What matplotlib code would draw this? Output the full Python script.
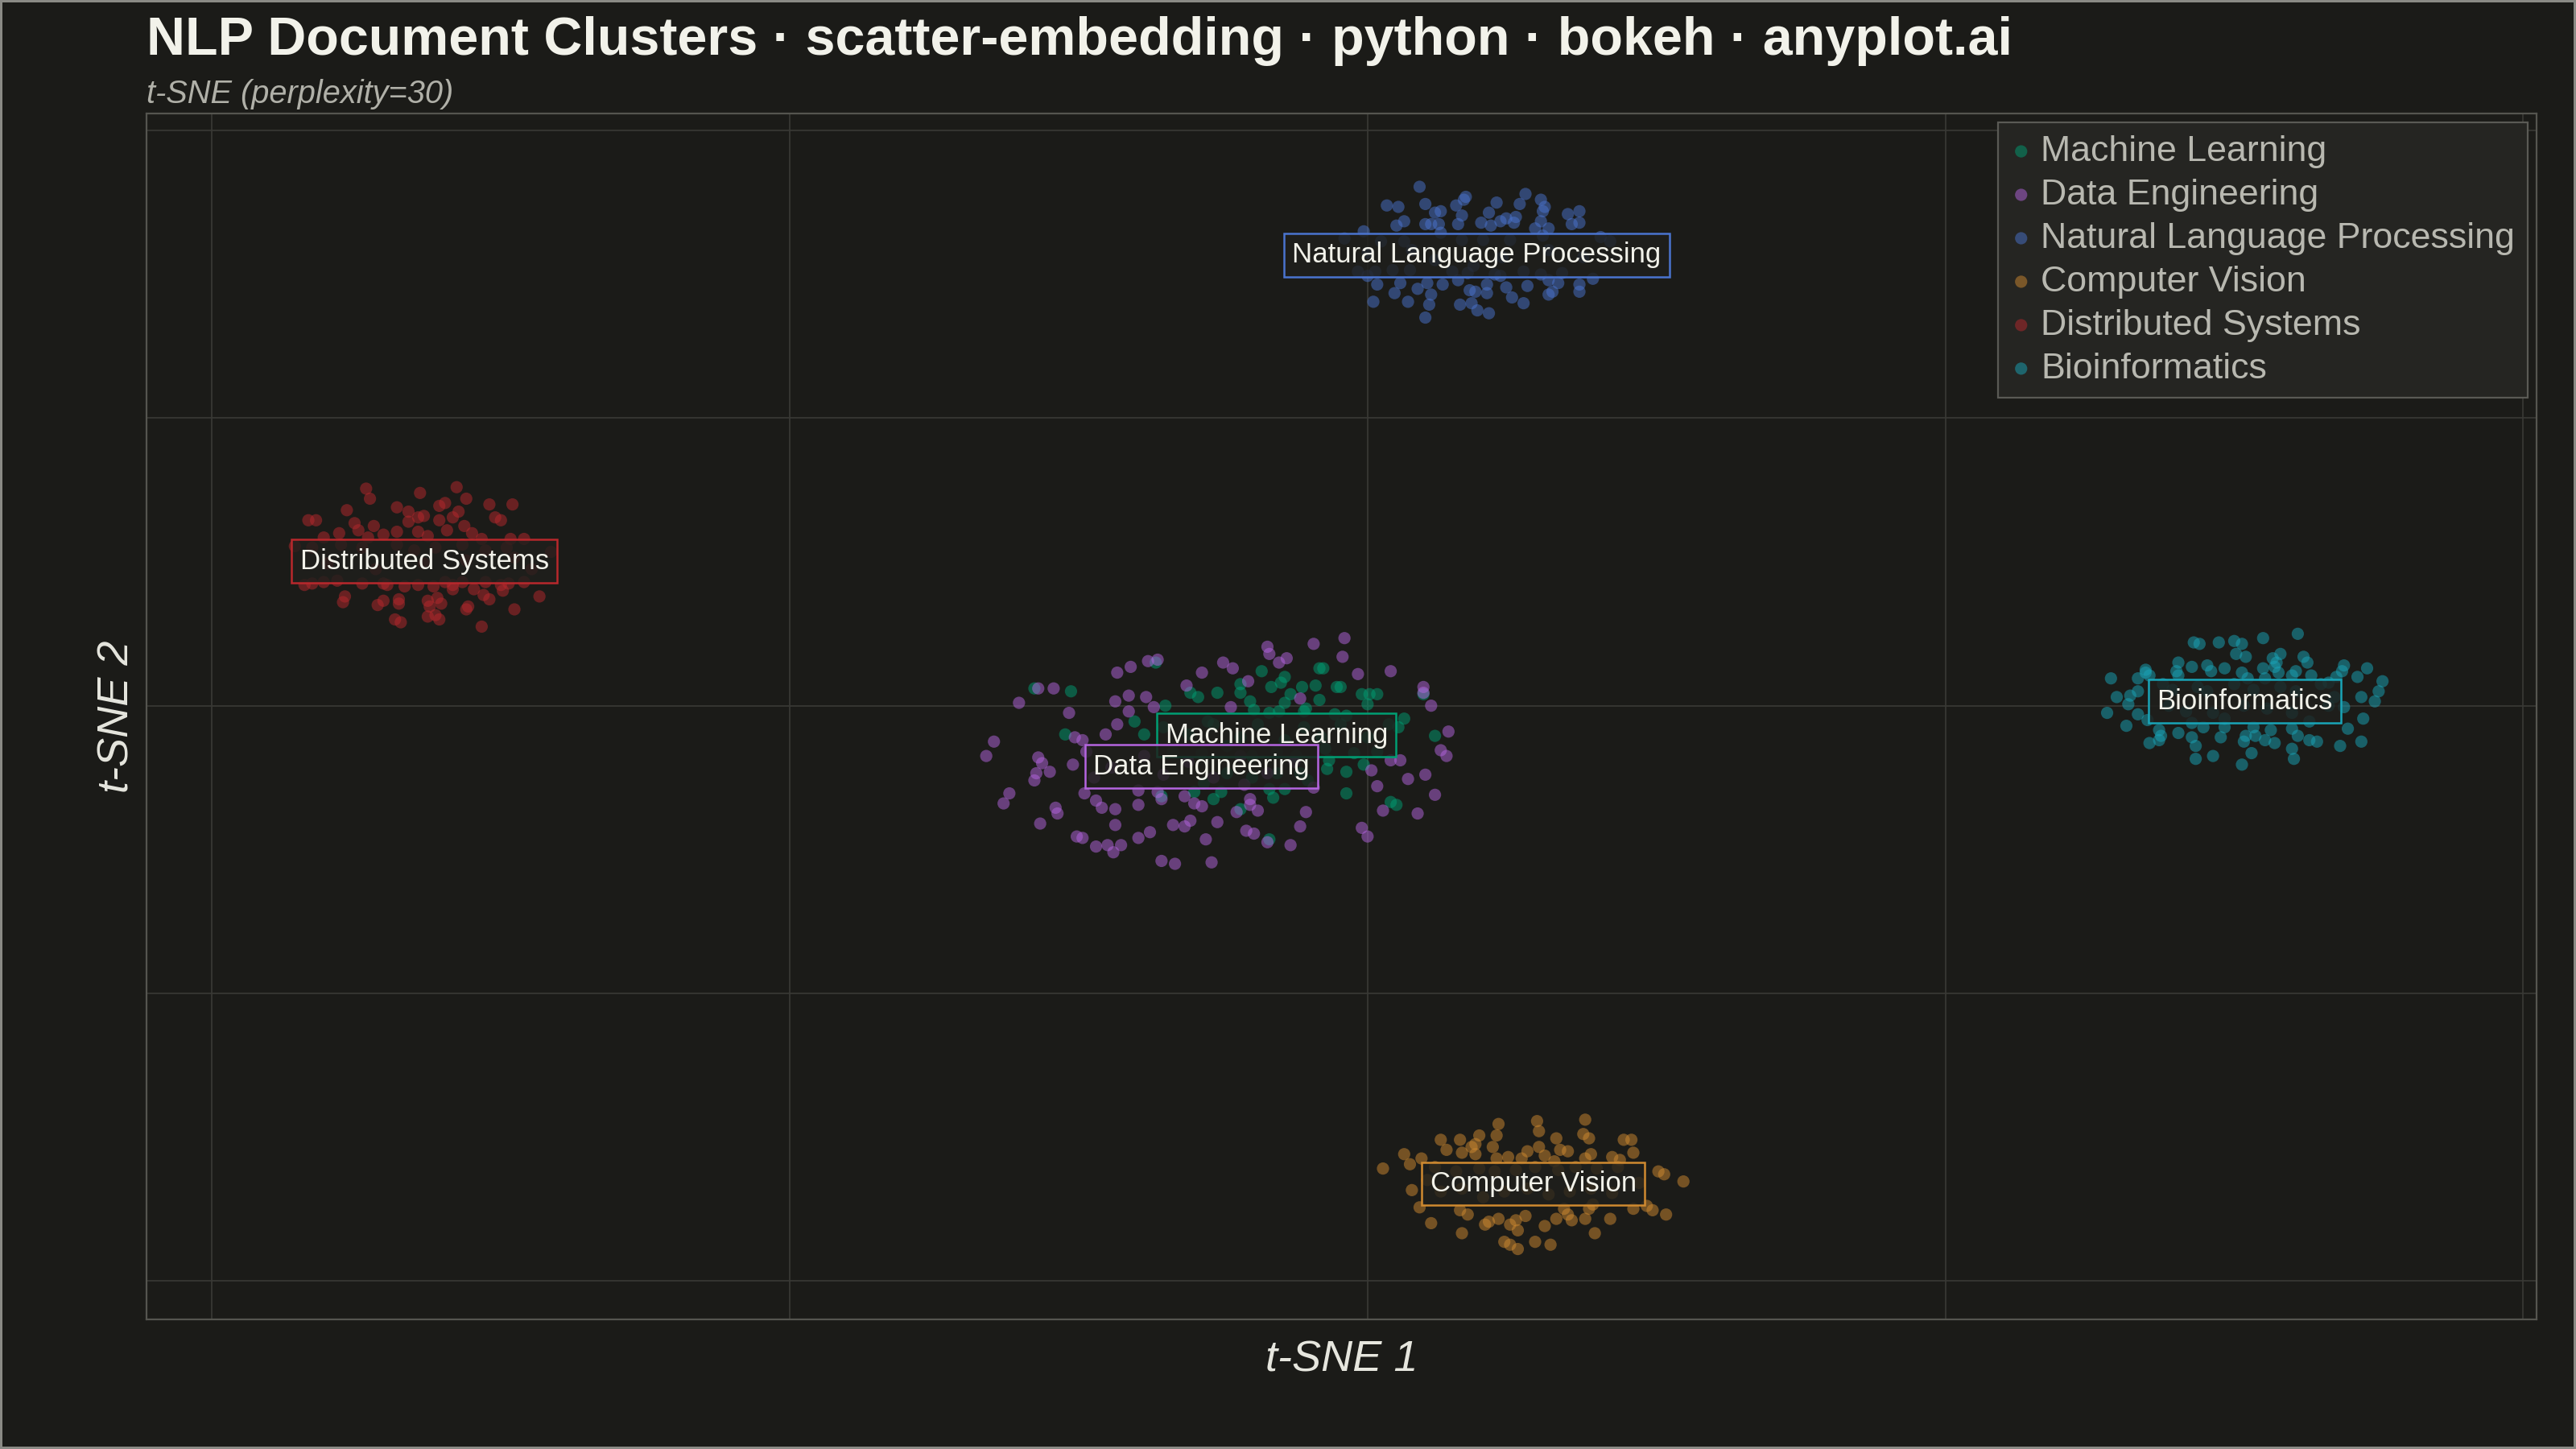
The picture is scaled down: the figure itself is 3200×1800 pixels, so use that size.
import numpy as np
import matplotlib.pyplot as plt

plt.rcParams['font.family'] = ['Liberation Sans', 'DejaVu Sans']

# cluster names and colours (legend order)
clusters = ["Machine Learning", "Data Engineering", "Natural Language Processing",
            "Computer Vision", "Distributed Systems", "Bioinformatics"]
colors = ["#009E73", "#B565E0", "#4A74CF", "#D08A30", "#B8282C", "#19A5B8"]

# t-SNE coordinates
ml_pts = np.array([
    (-17.3, 1.2), (-15.4, 1.0), (-11.0, 3.0), (-10.5, 0.0), (-9.2, 0.9), (-8.8, 0.6), (-7.8, 0.9),
    (-6.6, 1.5), (-6.6, 0.9), (-6.1, 0.3), (-5.5, 2.4), (-5.0, 1.3), (-4.5, 1.6), (-4.3, 2.0),
    (-4.3, 0.2), (-4.0, 0.8), (-3.4, 1.3), (-2.7, 1.4), (-3.2, -0.2), (-2.5, 0.4), (-2.5, 2.6),
    (-2.3, 2.6), (-1.6, 1.3), (-1.4, 1.3), (-0.3, 0.8), (0.1, 0.8), (0.5, 0.8), (0.0, 0.1),
    (2.9, 0.8), (1.9, -0.9), (1.6, -1.5), (1.1, -1.3), (3.5, -2.1), (-5.9, -0.3), (-5.1, -0.5),
    (-4.6, -0.4), (-3.3, -0.4), (-1.7, -0.6), (-1.1, -0.7), (-12.1, -1.1), (-15.7, -2.0),
    (-0.2, -4.1), (-1.1, -4.6), (-1.1, -6.1), (-2.0, -3.8), (-2.1, -4.4), (1.2, -6.7), (1.5, -6.9),
    (-9.0, -6.0), (-8.0, -6.5), (-7.6, -6.0), (-4.9, -6.4), (-5.1, -5.8), (-4.3, -5.8), (-3.1, -5.2),
    (-10.7, -6.3), (-6.6, -7.2), (-5.1, -9.3), (-11.6, -2.0), (-8.3, -1.1),
    (-10.6, -1.5), (-9.3, -2.0), (-8.0, -1.3), (-6.6, -2.2), (-5.7, -1.3), (-4.3, -2.4), (-3.3, -1.5),
    (-2.4, -2.2), (-1.4, -1.3), (0.0, -2.2), (0.5, -3.2), (-10.1, -3.2), (-8.6, -3.3), (-7.3, -2.8),
    (-6.0, -3.5), (-4.7, -3.2), (-3.7, -3.5), (-2.2, -3.0), (-0.7, -3.3), (-7.3, -4.7), (-6.0, -5.0),
    (-4.7, -4.7), (-8.5, -5.4), (-3.5, -4.7),
])

de_pts = np.array([
    (-1.2, 4.7), (-2.8, 4.3), (-5.2, 4.1), (-5.1, 3.6), (-4.6, 3.0), (-4.2, 3.3), (-7.5, 3.0),
    (-7.0, 2.6), (-8.6, 2.3), (-10.9, 3.2), (-11.4, 3.1), (-12.3, 2.7), (-13.0, 2.3), (-17.1, 1.2),
    (-16.3, 1.2), (-18.1, 0.2), (-6.2, 1.7), (-9.4, 1.4), (-1.3, 3.4), (-0.5, 2.2), (1.2, 2.4),
    (2.9, 1.3), (2.9, 0.9), (3.3, 0.0), (-12.4, 0.7), (-11.5, 0.6), (-13.1, 0.3), (-11.1, -0.1),
    (-12.4, -0.4), (-15.5, -0.5), (-7.1, -0.1), (-3.5, 0.5), (-13.0, -1.3), (-13.6, -2.0),
    (-15.2, -2.2), (-14.8, -2.4), (-19.4, -2.5), (-19.8, -3.5), (-17.1, -3.6), (-16.9, -4.0),
    (-16.5, -4.6), (-17.2, -4.7), (-17.3, -5.2), (-15.3, -4.1), (4.2, -1.8), (3.8, -3.1), (4.1, -3.5),
    (1.2, -3.8), (1.7, -3.8), (2.1, -5.1), (3.0, -4.8), (0.2, -4.5), (0.5, -5.6), (3.5, -6.2),
    (-2.8, -5.7), (-18.6, -6.1), (-18.9, -6.8), (-16.2, -7.1), (-16.1, -7.5), (-17.0, -8.2),
    (-14.7, -6.1), (-14.1, -6.6), (-13.8, -7.1), (-13.1, -7.2), (-11.9, -5.9), (-11.9, -6.9),
    (-10.9, -6.0), (-10.7, -6.5), (-9.5, -6.3), (-9.0, -6.8), (-8.6, -7.0), (-6.4, -5.5), (-6.1, -6.5),
    (-6.1, -6.9), (-5.7, -7.3), (-6.8, -7.4), (-3.2, -7.4), (0.8, -7.3), (2.6, -7.5), (-0.3, -8.5),
    (0.0, -9.1), (-9.2, -8.0), (-9.5, -8.4), (-7.8, -8.1), (-10.1, -8.3), (-6.3, -8.7), (-5.9, -8.9),
    (-13.1, -8.3), (-15.1, -9.1), (-14.8, -9.2), (-14.1, -9.8), (-13.5, -9.7), (-12.8, -9.7),
    (-13.2, -10.2), (-11.9, -9.2), (-11.3, -8.8), (-8.4, -9.3), (-5.2, -9.5), (-4.0, -9.7),
    (-3.5, -8.4), (-10.7, -10.8), (-10.0, -11.0), (-8.1, -10.9),
    (-14.6, -3.2), (-13.3, -4.3), (-11.6, -3.5), (-10.6, -4.8), (-9.3, -3.9), (-8.0, -5.0),
    (-6.6, -3.5), (-5.2, -4.7), (-3.8, -3.9), (-14.2, -5.0),
])

nlp_pts = np.array([
    (2.7, 36.1), (1.0, 34.8), (1.6, 34.7), (3.0, 34.9), (5.1, 35.4), (5.0, 35.2), (4.6, 34.8),
    (6.7, 35.0), (7.9, 34.9), (8.2, 35.6), (9.0, 35.2), (9.2, 34.7), (9.1, 34.4), (10.4, 34.2),
    (11.0, 34.4), (3.5, 34.3), (3.8, 34.4), (4.9, 34.1), (6.3, 34.3), (7.2, 33.9), (7.7, 34.0),
    (7.6, 33.6), (6.9, 33.7), (5.9, 33.6), (6.4, 33.4), (9.0, 33.7), (8.7, 33.2), (9.4, 33.2),
    (10.6, 33.5), (11.0, 33.6), (1.9, 33.7), (1.5, 33.4), (3.0, 33.5), (3.3, 33.5), (3.7, 33.5),
    (4.7, 33.5), (-0.2, 33.0), (-1.2, 32.5), (0.7, 32.3), (1.9, 32.3), (3.8, 32.9), (4.9, 32.4),
    (6.0, 32.4), (7.4, 32.4), (9.1, 32.7), (12.1, 32.6), (12.6, 32.3), (0.0, 31.5), (2.3, 31.7),
    (7.0, 31.2), (9.4, 31.7), (3.5, 31.0), (11.2, 31.2), (5.5, 30.6), (-0.5, 30.2), (0.0, 29.9),
    (0.4, 30.2), (1.3, 30.3), (2.2, 30.3), (4.4, 30.2), (5.2, 30.1), (6.6, 30.0), (6.9, 29.9),
    (8.1, 30.2), (9.0, 30.0), (10.1, 30.1), (11.7, 29.7), (0.5, 29.3), (1.7, 29.4), (2.6, 29.0),
    (3.1, 29.4), (3.9, 29.3), (4.7, 29.6), (6.2, 29.3), (7.2, 29.1), (8.3, 29.2), (9.4, 29.6),
    (9.9, 29.4), (11.0, 29.3), (1.4, 28.7), (3.3, 28.6), (5.3, 28.9), (5.6, 28.8), (6.2, 28.7),
    (7.5, 28.4), (9.6, 28.8), (9.4, 28.6), (11.0, 28.8), (0.3, 28.1), (2.1, 28.1), (3.2, 27.9),
    (4.8, 27.9), (5.4, 28.0), (5.7, 27.5), (8.1, 28.0), (6.3, 27.3), (3.0, 27.0),
])

cv_pts = np.array([
    (6.8, -29.1), (8.8, -28.9), (11.3, -28.8), (8.9, -29.6), (3.8, -30.2), (4.8, -30.2), (5.8, -29.9),
    (6.7, -29.9), (6.5, -30.7), (5.4, -30.7), (5.6, -30.5), (4.1, -30.9), (4.9, -31.1), (5.6, -31.2),
    (1.9, -31.2), (2.2, -31.9), (2.8, -31.5), (9.8, -30.1), (11.2, -29.8), (11.5, -30.1), (13.3, -30.2),
    (13.7, -30.2), (8.9, -30.7), (10.0, -30.9), (10.4, -31.0), (8.3, -31.0), (11.6, -31.2), (13.8, -31.1),
    (12.7, -31.4), (13.1, -31.6), (7.3, -31.4), (6.7, -31.5), (8.0, -31.5), (9.2, -31.3), (9.7, -31.7),
    (11.3, -31.5), (15.1, -32.4), (15.4, -32.6), (16.4, -33.1), (0.8, -32.2), (2.3, -33.7), (2.7, -34.9),
    (3.3, -36.0), (4.9, -36.7), (4.8, -35.1), (5.2, -35.4), (6.1, -36.1), (6.3, -35.9), (6.8, -35.7),
    (7.4, -36.1), (7.7, -35.8), (7.8, -36.5), (8.2, -35.5), (9.2, -36.2), (9.8, -35.7), (10.2, -35.0),
    (10.6, -35.8), (10.4, -35.4), (11.3, -35.7), (12.6, -35.7), (11.8, -36.7), (13.8, -35.0),
    (14.5, -34.8), (14.8, -35.1), (15.5, -35.4), (7.1, -37.3), (7.4, -37.5), (7.8, -37.8), (8.7, -37.3),
    (9.5, -37.5), (11.7, -34.7), (11.5, -35.0), (3.5, -32.1), (4.6, -32.4), (5.8, -32.2), (6.6, -32.4),
    (7.7, -32.3), (8.7, -32.1), (9.9, -32.3), (10.8, -32.1), (11.9, -32.2), (13.0, -32.1), (3.8, -33.8),
    (4.9, -33.6), (6.0, -34.2), (7.1, -33.8), (8.3, -33.6), (9.4, -34.0), (10.5, -33.8), (11.6, -33.6),
    (12.7, -33.9), (14.1, -33.2), (3.1, -33.0),
])

ds_pts = np.array([
    (-52.0, 15.1), (-51.8, 14.4), (-49.2, 14.8), (-47.3, 15.2), (-46.8, 14.4), (-48.2, 13.9), (-47.9, 14.1),
    (-50.4, 13.8), (-49.8, 13.5), (-53.0, 13.6), (-55.0, 12.9), (-54.6, 12.9), (-52.6, 12.7), (-52.4, 12.2),
    (-51.6, 12.5), (-49.8, 12.8), (-49.3, 13.1), (-49.0, 13.2), (-48.2, 12.9), (-47.5, 13.1), (-47.2, 13.5),
    (-46.9, 12.5), (-47.8, 12.2), (-49.3, 12.1), (-50.4, 12.1), (-51.1, 11.9), (-51.9, 11.7), (-53.4, 12.0),
    (-54.2, 11.7), (-45.6, 14.0), (-44.4, 14.0), (-45.3, 13.1), (-45.0, 12.9), (-46.5, 12.0), (-46.0, 11.6),
    (-44.5, 11.6), (-43.8, 11.6), (-48.8, 11.8), (-55.7, 11.1), (-54.8, 11.0), (-53.3, 11.2), (-52.2, 11.0),
    (-50.4, 11.2), (-49.5, 10.8), (-48.4, 11.0), (-47.0, 11.2), (-45.8, 10.8), (-44.7, 11.0), (-42.4, 10.7),
    (-54.0, 9.9), (-51.5, 9.5), (-49.0, 9.9), (-46.8, 10.1), (-44.3, 10.3), (-43.4, 9.5), (-55.2, 8.4),
    (-54.8, 8.5), (-54.2, 8.6), (-53.5, 8.7), (-52.2, 8.5), (-51.1, 8.5), (-50.9, 8.4), (-50.0, 8.3),
    (-49.3, 8.4), (-48.5, 8.3), (-47.9, 8.6), (-47.5, 8.4), (-47.5, 8.1), (-47.0, 8.6), (-46.4, 8.1),
    (-45.8, 8.6), (-45.0, 8.4), (-44.6, 8.5), (-43.8, 8.6), (-44.9, 8.0), (-53.1, 7.6), (-53.2, 7.2),
    (-51.4, 7.0), (-51.1, 7.3), (-50.3, 7.4), (-50.3, 7.1), (-48.8, 7.3), (-48.7, 6.9), (-48.3, 7.5),
    (-48.1, 7.1), (-46.7, 6.9), (-46.8, 6.7), (-45.9, 7.7), (-45.6, 7.4), (-44.3, 6.7), (-43.0, 7.6),
    (-48.8, 6.2), (-48.4, 6.3), (-48.2, 6.0), (-50.5, 6.0), (-50.2, 5.8), (-46.0, 5.5),
])

bio_pts = np.array([
    (48.3, 5.0), (46.5, 4.7), (44.2, 4.4), (42.9, 4.4), (43.2, 4.3), (45.0, 4.5), (45.4, 4.3), (45.1, 3.6),
    (45.6, 3.4), (47.0, 3.3), (47.4, 3.6), (48.6, 3.4), (48.8, 3.0), (47.2, 3.0), (47.1, 2.7), (46.5, 2.6),
    (44.5, 2.6), (43.6, 2.8), (43.8, 2.4), (42.8, 2.7), (42.1, 3.0), (42.0, 2.4), (42.1, 2.1), (40.4, 2.5),
    (40.4, 2.3), (40.0, 1.9), (40.6, 2.1), (38.6, 1.9), (45.4, 2.3), (45.7, 1.9), (46.6, 1.9), (47.3, 2.3),
    (48.2, 2.4), (48.0, 2.1), (49.0, 2.1), (50.7, 2.8), (50.6, 2.4), (50.3, 2.0), (51.4, 2.0), (51.9, 2.6),
    (52.7, 1.7), (52.5, 1.0), (51.6, 0.6), (52.3, 0.3), (50.7, -0.1), (49.9, 1.6), (40.0, 1.0), (39.6, 0.7),
    (38.9, 0.6), (39.5, 0.1), (38.4, -0.5), (40.0, -0.6), (40.5, -1.0), (39.4, -1.4), (41.1, -1.7),
    (41.2, -2.1), (40.6, -2.6), (41.1, -2.4), (42.1, -1.9), (42.8, -1.2), (42.8, -2.2), (43.0, -2.8),
    (43.4, -1.5), (44.3, -2.2), (44.5, -1.5), (43.0, -3.7), (43.9, -3.5), (45.4, -4.1), (45.5, -2.5),
    (45.6, -2.1), (45.9, -3.3), (46.1, -2.1), (46.6, -2.4), (47.1, -2.6), (46.9, -1.7), (48.0, -1.6),
    (48.3, -2.1), (48.0, -3.0), (48.1, -3.7), (48.9, -2.4), (49.3, -2.5), (48.9, -1.1), (50.9, -1.6),
    (51.7, -0.9), (50.5, -2.8), (51.6, -2.5), (44.5, -0.9), (46.0, -1.5), (41.3, 1.5), (41.8, 1.1),
    (43.1, 1.3), (43.6, 1.0), (45.0, 1.5), (46.0, 1.1), (47.4, 1.3), (48.2, 1.0), (49.5, 1.5), (41.6, 0.0),
    (42.5, -0.4), (43.9, -0.5), (45.5, 0.0), (46.7, -0.2), (48.0, -0.5), (49.9, 0.0), (50.2, 0.6),
])

point_sets = [ml_pts, de_pts, nlp_pts, cv_pts, ds_pts, bio_pts]

title = "NLP Document Clusters · scatter-embedding · python · bokeh · anyplot.ai"
subtitle = "t-SNE (perplexity=30)"

bg = "#1b1b18"
fig = plt.figure(figsize=(16, 9), dpi=200, facecolor=bg)
fig.patch.set_edgecolor("#8a8a85")
fig.patch.set_linewidth(1.5)
ax = fig.add_axes([0.0569, 0.0894, 0.9278, 0.8323], facecolor=bg)

for pts, name, col in zip(point_sets, clusters, colors):
    ax.scatter(pts[:, 0], pts[:, 1], s=30, color=col, alpha=0.5,
               edgecolors="none", label=name, zorder=3)

# cluster labels at the centroid
for pts, name, col in zip(point_sets, clusters, colors):
    cx, cy = pts.mean(axis=0)
    ax.text(cx, cy, name, ha="center", va="center_baseline", fontsize=12.5, color="#f2f2ea",
            zorder=5,
            bbox=dict(boxstyle="square,pad=0.3", facecolor=(0.12, 0.12, 0.11, 0.82),
                      edgecolor=col, linewidth=0.9))

ax.set_xlim(-63.4, 60.7)
ax.set_ylim(-42.7, 41.2)
ax.set_xticks([-60, -30, 0, 30, 60])
ax.set_yticks([-40, -20, 0, 20, 40])
ax.tick_params(length=0, labelbottom=False, labelleft=False)
ax.grid(True, color="#3a3a36", linewidth=0.6, zorder=0)
ax.set_axisbelow(True)
for sp in ax.spines.values():
    sp.set_color("#55554f")
    sp.set_linewidth(0.8)

ax.set_xlabel("t-SNE 1", fontsize=19.5, style="italic", color="#e6e6de", labelpad=9)
ax.set_ylabel("t-SNE 2", fontsize=19.5, style="italic", color="#e6e6de", labelpad=4)

leg = ax.legend(loc="upper right", fontsize=16.1, frameon=True, fancybox=False,
                facecolor="#252522", edgecolor="#5a5a55", framealpha=1,
                handlelength=0.6, handletextpad=0.25, labelspacing=0.29,
                borderpad=0.35, borderaxespad=0.25, markerscale=1.0)
leg.get_frame().set_linewidth(0.8)
leg.set_zorder(6)
for t in leg.get_texts():
    t.set_color("#b8b8b0")

fig.text(182 / 3200, 1 - 68 / 1800, title, ha="left", va="baseline",
         fontsize=23.9, weight="bold", color="#f2f2ea")
fig.text(182 / 3200, 1 - 128 / 1800, subtitle, ha="left", va="baseline",
         fontsize=14.3, style="italic", color="#b0b0a8")

fig.savefig("out.png", dpi=200, facecolor=bg, edgecolor=fig.get_edgecolor())
